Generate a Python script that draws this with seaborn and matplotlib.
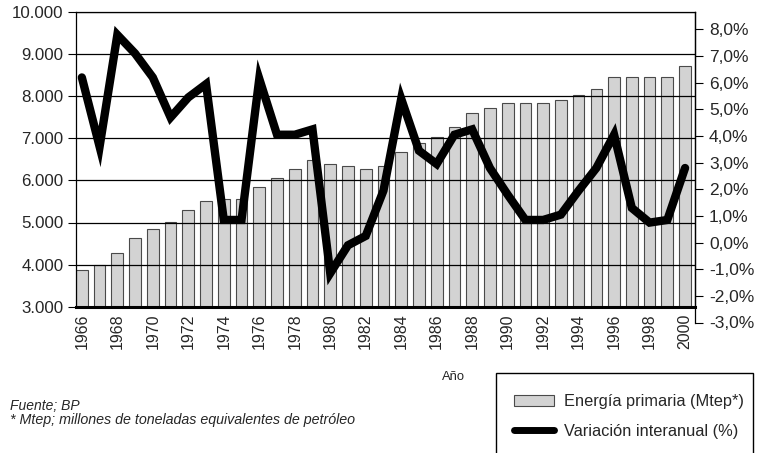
import numpy as np
import pandas as pd
import seaborn as sns
from matplotlib import pyplot as plt
from matplotlib.patches import Patch, Rectangle
from matplotlib.lines import Line2D
from matplotlib.ticker import FuncFormatter

sns.set_style('white')
plt.rcParams['font.family'] = ['Liberation Sans', 'DejaVu Sans']

# Data
years = list(range(1966, 2001))
energy = [3870, 4000, 4280, 4640, 4840, 5020, 5300, 5510, 5565, 5565,
          5850, 6050, 6280, 6485, 6380, 6340, 6280, 6350, 6680, 6880,
          7040, 7275, 7595, 7725, 7840, 7840, 7840, 7915, 8030, 8165,
          8465, 8465, 8465, 8465, 8710]
variation = [6.2, 3.6, 7.8, 7.1, 6.2, 4.7, 5.45, 5.95, 0.85, 0.85,
             6.15, 4.05, 4.05, 4.25, -1.15, -0.1, 0.25, 1.95, 5.4, 3.45,
             2.95, 4.05, 4.25, 2.8, 1.8, 0.85, 0.85, 1.05, 1.95, 2.8,
             4.05, 1.3, 0.75, 0.85, 2.8]
bar_label = 'Energía primaria (Mtep*)'
line_label = 'Variación interanual (%)'

df = pd.DataFrame({'year': [str(y) for y in years], 'pos': np.arange(len(years)),
                   'energy': energy, 'variation': variation})

W, H = 758, 453
fig = plt.figure(figsize=(W / 100, H / 100), dpi=100)

# bar axes (left scale)
ax = fig.add_axes([76 / W, 1 - 306.7 / H, 619 / W, 294.7 / H])
sns.barplot(data=df, x='year', y='energy', ax=ax, color='#d3d3d3', saturation=1,
            edgecolor='#4a4a4a', linewidth=0.8, width=0.66)
ax.set_xlim(-0.33, len(years) - 1 + 0.56)
ax.set_ylim(3000, 10000)
ax.set_yticks(range(3000, 10001, 1000))
ax.yaxis.set_major_formatter(FuncFormatter(lambda v, p: f'{int(v):,}'.replace(',', '.')))
ax.set_xticks(range(0, len(years), 2))
ax.set_xticklabels([str(y) for y in years[::2]], rotation=90, fontsize=11.5)
ax.tick_params(axis='x', length=0, pad=5)
ax.tick_params(axis='y', left=True, length=6, width=0.8, pad=3, labelsize=12.2, color='black')
ax.set_xlabel('')
ax.set_ylabel('')
ax.grid(axis='y', color='black', linewidth=0.9)
ax.set_axisbelow(False)
for s in ['top', 'left', 'right']:
    ax.spines[s].set_color('black')
    ax.spines[s].set_linewidth(0.9)
ax.spines['bottom'].set_color('black')
ax.spines['bottom'].set_linewidth(2.2)

# line axes (right scale), taller than the bar box like the original
ax2 = fig.add_axes([76 / W, 1 - 322.5 / H, 619 / W, 310.5 / H])
ax2.patch.set_alpha(0)
sns.lineplot(data=df, x='pos', y='variation', ax=ax2, color='black', linewidth=6,
             solid_joinstyle='miter')
ax2.set_xlim(ax.get_xlim())
ax2.set_ylim(-3, 8 + 17.5 / 26.64)
ax2.set_yticks(range(-3, 9))
ax2.yaxis.set_major_formatter(FuncFormatter(lambda v, p: f'{v:.1f}%'.replace('.', ',')))
ax2.yaxis.tick_right()
ax2.tick_params(axis='y', right=True, left=False, length=6, width=0.8, pad=4,
                labelsize=12.5, color='black')
ax2.set_xticks([])
ax2.set_xlabel('')
ax2.set_ylabel('')
for s in ['top', 'left', 'bottom']:
    ax2.spines[s].set_visible(False)
ax2.spines['right'].set_color('black')
ax2.spines['right'].set_linewidth(0.9)

fig.text(453 / W, 1 - 377 / H, 'Año', fontsize=9.4, ha='center', va='center')

fig.text(10 / W, 1 - 410 / H, 'Fuente; BP', fontsize=10, style='italic', va='baseline')
fig.text(10 / W, 1 - 424 / H, '* Mtep; millones de toneladas equivalentes de petróleo',
         fontsize=10.3, style='italic', va='baseline')

# legend box, cut by the bottom edge
fig.add_artist(Rectangle((496 / W, -0.05), (753 - 496) / W, 0.05 + 1 - 373 / H,
                         transform=fig.transFigure, fill=False, edgecolor='black', linewidth=1))
handles = [Patch(facecolor='#d3d3d3', edgecolor='#4a4a4a', linewidth=0.8),
           Line2D([], [], color='black', linewidth=5)]
fig.legend(handles, [bar_label, line_label], loc='upper left',
           bbox_to_anchor=(506 / W, 1 - 386 / H), frameon=False, fontsize=11.8,
           borderpad=0, handlelength=2.4, handletextpad=0.65, labelspacing=0.9)

fig.savefig('out.png', dpi=100)
